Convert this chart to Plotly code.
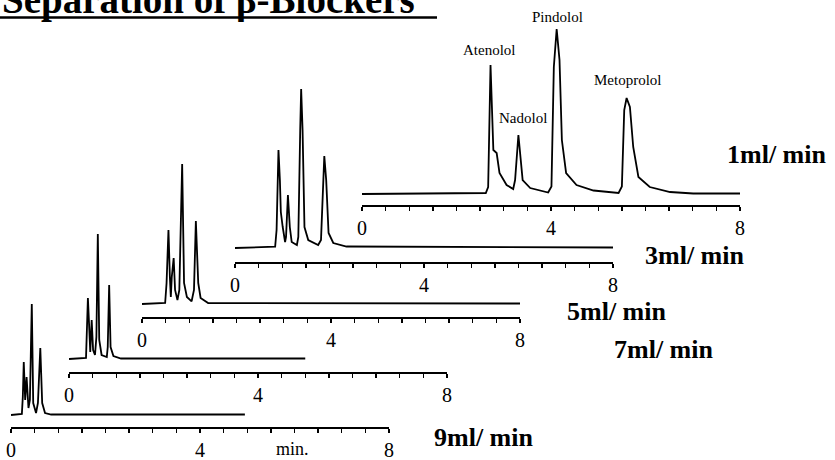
import plotly.graph_objects as go

W, H = 835, 460

# ---- data (time in min, detector signal in arbitrary units) ----
flow_labels = ["1ml/ min", "3ml/ min", "5ml/ min", "7ml/ min", "9ml/ min"]

t_1ml = [0, 2.62, 2.67, 2.72, 2.78, 2.85, 2.91, 3.06, 3.20, 3.24, 3.31, 3.36, 3.40, 3.56, 3.94,
         4.01, 4.06, 4.12, 4.18, 4.23, 4.32, 4.54, 4.90, 5.43, 5.50, 5.55, 5.60, 5.67, 5.74,
         5.85, 6.09, 6.52, 7.01, 8.0]
s_1ml = [0, 1, 7, 129, 44, 41, 21, 9, 5, 14, 59, 37, 14, 6, 1.5,
         7.5, 127, 165, 134, 54, 21, 9, 3.5, 1, 7.5, 84, 96, 87, 47,
         17, 7, 2, 0.5, 0.5]

t_3ml = [0, 0.85, 0.88, 0.92, 0.95, 0.97, 1.01, 1.06, 1.08, 1.12, 1.16, 1.20, 1.31, 1.34,
         1.38, 1.40, 1.43, 1.47, 1.55, 1.76, 1.82, 1.86, 1.89, 1.93, 1.98, 2.08, 2.36, 8.0]
s_3ml = [0, 1.3, 18, 98, 68, 36, 21, 6, 11, 53, 21, 6, 3, 11,
         118, 159, 118, 21, 8, 3, 8, 68, 92, 68, 15, 5, 1.5, 0.5]

t_5ml = [0, 0.49, 0.52, 0.56, 0.59, 0.61, 0.63, 0.67, 0.70, 0.75, 0.79, 0.85, 0.89, 0.95,
         1.05, 1.10, 1.14, 1.19, 1.24, 1.40, 8.0]
s_5ml = [0, 1, 21, 74, 27, 7, 27, 46, 14, 4, 14, 140, 21, 7,
         2.7, 14, 83, 21, 6, 1, 0.5]

t_7ml = [0, 0.36, 0.37, 0.40, 0.43, 0.45, 0.48, 0.51, 0.55, 0.58, 0.61, 0.64, 0.69, 0.80,
         0.82, 0.85, 0.88, 0.94, 1.10, 5.0]
s_7ml = [0, 1, 16, 61, 29, 7, 39, 9, 4, 22, 125, 19, 4, 2,
         12, 74, 12, 3, 0.5, 0.5]

t_9ml = [0, 0.23, 0.25, 0.27, 0.30, 0.33, 0.37, 0.40, 0.44, 0.47, 0.53, 0.57, 0.62, 0.66,
         0.72, 0.85, 4.95]
s_9ml = [0, 1, 18, 53, 15, 38, 7, 15, 111, 12, 2, 12, 67, 12,
         2, 0.5, 0.5]

peak_names = ["Atenolol", "Nadolol", "Pindolol", "Metoprolol"]
peak_label_t = [2.69, 3.41, 4.13, 5.63]
peak_label_s = [144, 76, 177, 114]

tick_vals = [i * 0.5 for i in range(17)]
tick_text = ["0" if v == 0 else "4" if v == 4 else "8" if v == 8 else "" for v in tick_vals]

# ---- layout geometry (pixels) ----
panels = [
    dict(t=t_1ml, s=s_1ml, x0=362, axis_y=205, off=11, lab=(725, 155)),
    dict(t=t_3ml, s=s_3ml, x0=235, axis_y=262, off=14, lab=(643, 255)),
    dict(t=t_5ml, s=s_5ml, x0=142, axis_y=317, off=13, lab=(565, 311)),
    dict(t=t_7ml, s=s_7ml, x0=69, axis_y=372, off=13, lab=(612, 349)),
    dict(t=t_9ml, s=s_9ml, x0=11, axis_y=427, off=12, lab=(432, 437)),
]
AX_W = 378
PH = 195

def px(x):
    return x / W

def py(y):
    return 1 - y / H

fig = go.Figure()
layout = dict(
    width=W, height=H, margin=dict(l=0, r=0, t=0, b=0, pad=0, autoexpand=False),
    paper_bgcolor="white", plot_bgcolor="rgba(0,0,0,0)",
    showlegend=False, annotations=[], shapes=[],
)

for i, p in enumerate(panels):
    n = "" if i == 0 else str(i + 1)
    xa, ya = "x" + n, "y" + n
    fig.add_trace(go.Scatter(x=p["t"], y=p["s"], mode="lines",
                             line=dict(color="black", width=1.8),
                             xaxis=xa, yaxis=ya, hoverinfo="skip", cliponaxis=False))
    layout["xaxis" + n] = dict(
        domain=[px(p["x0"]), px(p["x0"] + AX_W)], range=[0, 8], anchor=ya,
        showline=True, linecolor="black", linewidth=1.6, ticks="outside",
        ticklen=4, tickwidth=1.3, tickcolor="black", automargin=False,
        tickmode="array", tickvals=tick_vals, ticktext=tick_text,
        tickfont=dict(family="Liberation Serif", size=20, color="black"),
        showgrid=False, zeroline=False, fixedrange=True,
    )
    layout["yaxis" + n] = dict(
        domain=[py(p["axis_y"]), py(p["axis_y"] - PH)], range=[-p["off"], PH - p["off"]],
        anchor=xa, visible=False, showgrid=False, zeroline=False, fixedrange=True,
        automargin=False,
    )
    layout["annotations"].append(dict(
        text="<b>" + flow_labels[i] + "</b>", xref="paper", yref="paper",
        x=px(p["lab"][0]), y=py(p["lab"][1]), xanchor="left", yanchor="middle",
        showarrow=False, font=dict(family="Liberation Serif", size=26, color="black"),
    ))

for name, t, s in zip(peak_names, peak_label_t, peak_label_s):
    layout["annotations"].append(dict(
        text=name, xref="x", yref="y", x=t, y=s, xanchor="center", yanchor="middle",
        showarrow=False, font=dict(family="Liberation Serif", size=15, color="black"),
    ))

layout["annotations"].append(dict(
    text="min.", xref="paper", yref="paper", x=px(292), y=py(449),
    xanchor="center", yanchor="middle", showarrow=False,
    font=dict(family="Liberation Serif", size=18, color="black"),
))

layout["annotations"].append(dict(
    text="<b>Separation of β-Blockers</b>", xref="paper", yref="paper",
    x=px(0), y=py(24), xanchor="left", yanchor="bottom", showarrow=False,
    font=dict(family="Liberation Serif", size=39, color="black"),
))
layout["shapes"].append(dict(
    type="line", xref="paper", yref="paper", x0=px(0), x1=px(437),
    y0=py(17.5), y1=py(17.5), line=dict(color="black", width=2.5),
))

fig.update_layout(**layout)
fig.write_html("out.html", config={"displayModeBar": False, "staticPlot": True},
               post_script="document.body.style.margin='0';document.body.style.overflow='hidden';")
